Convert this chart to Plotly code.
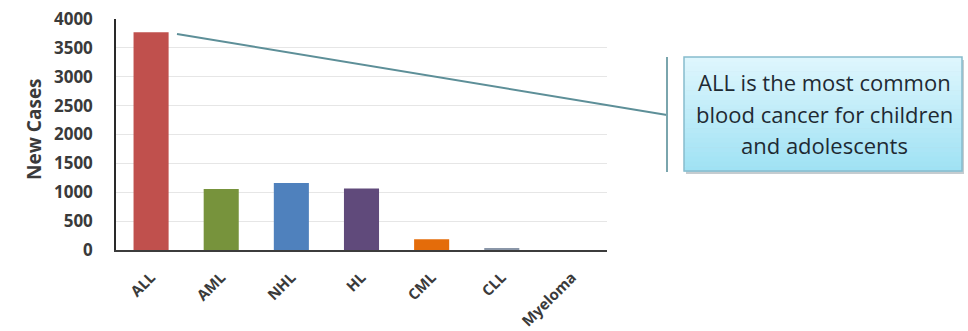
import plotly.graph_objects as go

# Blood cancer types and estimated new cases among children and adolescents
cancer_types = ["ALL", "AML", "NHL", "HL", "CML", "CLL", "Myeloma"]
new_cases = [3770, 1055, 1160, 1065, 185, 25, 0]
bar_colors = ["#c0504d", "#77933c", "#4f81bd", "#604a7b", "#e46c0a", "#8a96a8", "#8a96a8"]
y_ticks = [0, 500, 1000, 1500, 2000, 2500, 3000, 3500, 4000]

callout_lines = ["ALL is the most common", "blood cancer for children", "and adolescents"]

W, H = 968, 331
ML, MR, MT, MB = 116, 361, 19, 81
PW, PH = W - ML - MR, H - MT - MB


def px(x):
    return (x - ML) / PW


def py(y):
    return (H - MB - y) / PH


fig = go.Figure(
    go.Bar(
        x=cancer_types,
        y=new_cases,
        marker=dict(color=bar_colors, line=dict(width=0)),
        width=0.5,
        hoverinfo="x+y",
    )
)

font_family = "Open Sans"

fig.update_layout(
    width=W,
    height=H,
    margin=dict(l=ML, r=MR, t=MT, b=MB, pad=0, autoexpand=False),
    paper_bgcolor="white",
    plot_bgcolor="white",
    showlegend=False,
    font=dict(family=font_family, color="#3a3a3a"),
)

fig.update_xaxes(
    type="category",
    range=[-0.5, len(cancer_types) - 0.5],
    tickangle=-45,
    tickfont=dict(size=15, family=font_family, weight="bold", color="#3a3a3a"),
    ticklabelstandoff=11,
    automargin=False,
    showline=True,
    linecolor="#3c3c3c",
    linewidth=1.5,
    showgrid=False,
    ticks="",
)

fig.update_yaxes(
    range=[0, 4000],
    tickvals=y_ticks,
    tickfont=dict(size=17, family=font_family, weight="bold", color="#3a3a3a"),
    ticklabelstandoff=18,
    automargin=False,
    showline=True,
    linecolor="#2a2a2a",
    linewidth=1.5,
    showgrid=True,
    gridcolor="#e6e6e6",
    gridwidth=1,
    zeroline=False,
    ticks="",
)

# Axis title drawn as a rotated label
fig.add_annotation(
    text="New Cases",
    xref="paper", yref="paper",
    x=px(19), y=py(129),
    textangle=-90,
    showarrow=False,
    font=dict(size=19, family=font_family, weight="bold", color="#3a3a3a"),
)

# Callout pointer from the ALL bar to the bracket
fig.add_shape(
    type="line", xref="paper", yref="paper",
    x0=px(177), y0=py(34), x1=px(667), y1=py(115),
    line=dict(color="#5d8f98", width=2),
)
fig.add_shape(
    type="line", xref="paper", yref="paper",
    x0=px(667), y0=py(57), x1=px(667), y1=py(172),
    line=dict(color="#7aa5ad", width=2),
)

# Callout box: shadow, vertical gradient bands, border
box_l, box_r, box_t, box_b = 684, 962, 57, 171
fig.add_shape(
    type="rect", xref="paper", yref="paper",
    x0=px(box_l + 2), y0=py(box_b + 3), x1=px(box_r + 2), y1=py(box_t + 3),
    line=dict(width=0), fillcolor="rgba(90,110,120,0.35)",
)
top_rgb = (222, 246, 253)
bot_rgb = (160, 226, 244)
n_bands = 24
band_h = (box_b - box_t) / n_bands
for i in range(n_bands):
    t = i / (n_bands - 1)
    c = tuple(round(a + (b - a) * t) for a, b in zip(top_rgb, bot_rgb))
    fig.add_shape(
        type="rect", xref="paper", yref="paper",
        x0=px(box_l), x1=px(box_r),
        y0=py(box_t + (i + 1) * band_h + 0.5), y1=py(box_t + i * band_h),
        line=dict(width=0), fillcolor="rgb(%d,%d,%d)" % c,
    )
fig.add_shape(
    type="rect", xref="paper", yref="paper",
    x0=px(box_l), y0=py(box_b), x1=px(box_r), y1=py(box_t),
    line=dict(color="#86bccd", width=1.5), fillcolor="rgba(0,0,0,0)",
)

for i, line in enumerate(callout_lines):
    fig.add_annotation(
        text=line,
        xref="paper", yref="paper",
        x=px((box_l + box_r) / 2 + 1), y=py(82 + 31.5 * i),
        xanchor="center", yanchor="middle",
        showarrow=False,
        font=dict(size=22, family=font_family, weight=500, color="#1e2a33"),
    )

fig.write_html("out.html")
